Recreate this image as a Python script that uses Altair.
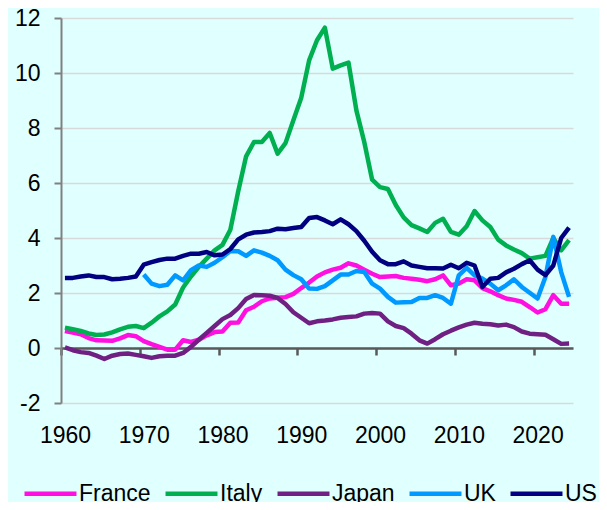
import altair as alt
import pandas as pd

years = list(range(1960, 2025))

france = [0.62, 0.56, 0.50, 0.36, 0.28, 0.27, 0.26, 0.35, 0.47, 0.43,
          0.25, 0.14, 0.04, -0.06, -0.06, 0.28, 0.22, 0.30, 0.46, 0.58,
          0.60, 0.92, 0.93, 1.37, 1.50, 1.70, 1.80, 1.83, 1.85, 1.97,
          2.18, 2.38, 2.60, 2.75, 2.85, 2.92, 3.08, 3.00, 2.85, 2.70,
          2.58, 2.60, 2.62, 2.55, 2.52, 2.48, 2.43, 2.50, 2.64, 2.28,
          2.34, 2.50, 2.46, 2.18, 2.06, 1.92, 1.80, 1.75, 1.68, 1.49,
          1.29, 1.41, 1.92, 1.61, 1.61]

italy = [0.74, 0.68, 0.62, 0.53, 0.47, 0.49, 0.57, 0.68, 0.77, 0.80,
         0.72, 0.92, 1.15, 1.33, 1.58, 2.20, 2.60, 2.95, 3.25, 3.55,
         3.75, 4.30, 5.70, 6.97, 7.49, 7.49, 7.82, 7.07, 7.45, 8.28,
         9.10, 10.46, 11.19, 11.65, 10.16, 10.28, 10.38, 8.64, 7.49, 6.12,
         5.85, 5.78, 5.20, 4.75, 4.47, 4.35, 4.22, 4.55, 4.70, 4.22,
         4.12, 4.43, 4.98, 4.64, 4.40, 3.94, 3.73, 3.58, 3.45, 3.25,
         3.30, 3.35, 4.00, 3.55, 3.92]

japan = [0.02, -0.08, -0.15, -0.18, -0.28, -0.40, -0.28, -0.22, -0.20, -0.25,
         -0.30, -0.36, -0.30, -0.28, -0.28, -0.18, 0.04, 0.30, 0.55, 0.80,
         1.05, 1.20, 1.45, 1.78, 1.93, 1.92, 1.90, 1.82, 1.60, 1.30,
         1.10, 0.90, 0.97, 1.00, 1.04, 1.10, 1.13, 1.15, 1.25, 1.27,
         1.25, 0.97, 0.80, 0.72, 0.52, 0.28, 0.16, 0.32, 0.50, 0.63,
         0.75, 0.85, 0.92, 0.88, 0.86, 0.82, 0.85, 0.76, 0.60, 0.52,
         0.50, 0.48, 0.32, 0.15, 0.16]

uk = [None] * 10 + [
      2.67, 2.34, 2.25, 2.30, 2.64, 2.46, 2.83, 3.00, 2.95, 3.10,
      3.30, 3.53, 3.52, 3.35, 3.55, 3.47, 3.35, 3.19, 2.85, 2.65,
      2.50, 2.16, 2.15, 2.25, 2.46, 2.67, 2.67, 2.80, 2.76, 2.34,
      2.16, 1.86, 1.65, 1.66, 1.67, 1.82, 1.82, 1.92, 1.82, 1.61,
      2.64, 2.91, 2.64, 2.52, 2.34, 2.10, 2.28, 2.50, 2.22, 2.01,
      1.80, 2.58, 4.04, 2.76, 1.86]

us = [2.55, 2.55, 2.60, 2.64, 2.58, 2.58, 2.50, 2.52, 2.55, 2.60,
      3.03, 3.12, 3.20, 3.25, 3.25, 3.35, 3.43, 3.43, 3.49, 3.37,
      3.40, 3.60, 3.95, 4.12, 4.20, 4.22, 4.25, 4.34, 4.32, 4.36,
      4.40, 4.73, 4.76, 4.64, 4.50, 4.68, 4.50, 4.25, 3.90, 3.50,
      3.19, 3.05, 3.05, 3.15, 3.00, 2.95, 2.90, 2.90, 2.89, 3.03,
      2.90, 3.10, 3.00, 2.22, 2.52, 2.55, 2.75, 2.88, 3.05, 3.19,
      2.85, 2.65, 3.00, 4.00, 4.38]

countries = ["France", "Italy", "Japan", "UK", "US"]
colors = ["#FF10E0", "#00B050", "#702082", "#0099FF", "#000080"]
series = [france, italy, japan, uk, us]

rows = []
for name, vals in zip(countries, series):
    for yr, v in zip(years, vals):
        if v is not None:
            rows.append({"year": yr, "value": v, "country": name})
df = pd.DataFrame(rows)

FONT = "Liberation Sans"
FS = 23

chart = alt.Chart(df).mark_line(strokeWidth=4.5, strokeJoin="round").encode(
    x=alt.X("year:Q",
            scale=alt.Scale(domain=[1959.5, 2024.5], nice=False, zero=False),
            axis=alt.Axis(values=[1959.5, 1969.5, 1979.5, 1989.5, 1999.5, 2009.5, 2019.5],
                          labelExpr="format(datum.value + 0.5, 'd')",
                          labelOffset=4, offset=-55, grid=False, title=None,
                          domainColor="#595959", domainWidth=2.5,
                          tickColor="#595959", tickWidth=2.5, tickSize=7,
                          labelPadding=69, labelFontSize=FS, labelFont=FONT,
                          labelColor="black", labelFlush=False, labelOverlap=False)),
    y=alt.Y("value:Q",
            scale=alt.Scale(domain=[-2, 12], nice=False),
            axis=alt.Axis(values=[-2, 0, 2, 4, 6, 8, 10, 12], title=None,
                          labelExpr="datum.value < 0 ? '-' + abs(datum.value) : '' + datum.value",
                          grid=True, gridColor="#D9D9D9", gridWidth=1.5,
                          domainColor="#808080", domainWidth=2,
                          tickColor="#808080", tickWidth=2, tickSize=7,
                          labelPadding=14, labelFontSize=FS, labelFont=FONT,
                          labelColor="black", labelFlush=False)),
    color=alt.Color("country:N",
                    scale=alt.Scale(domain=countries, range=colors),
                    legend=alt.Legend(title=None, orient="none", direction="horizontal",
                                      legendX=-39, legendY=447, columns=5, padding=0,
                                      symbolType="stroke", symbolStrokeWidth=4.5,
                                      symbolSize=2700, columnPadding=5, labelOffset=0,
                                      labelFontSize=FS, labelFont=FONT, labelColor="black")),
).properties(
    width=512, height=385,
    padding={"left": 53, "top": 10, "right": 26, "bottom": 99},
    autosize=alt.AutoSizeParams(type="none"),
).configure(background="#E0FFFF").configure_view(strokeWidth=0)

chart.save("out.html", embed_options={"renderer": "svg", "actions": False})
